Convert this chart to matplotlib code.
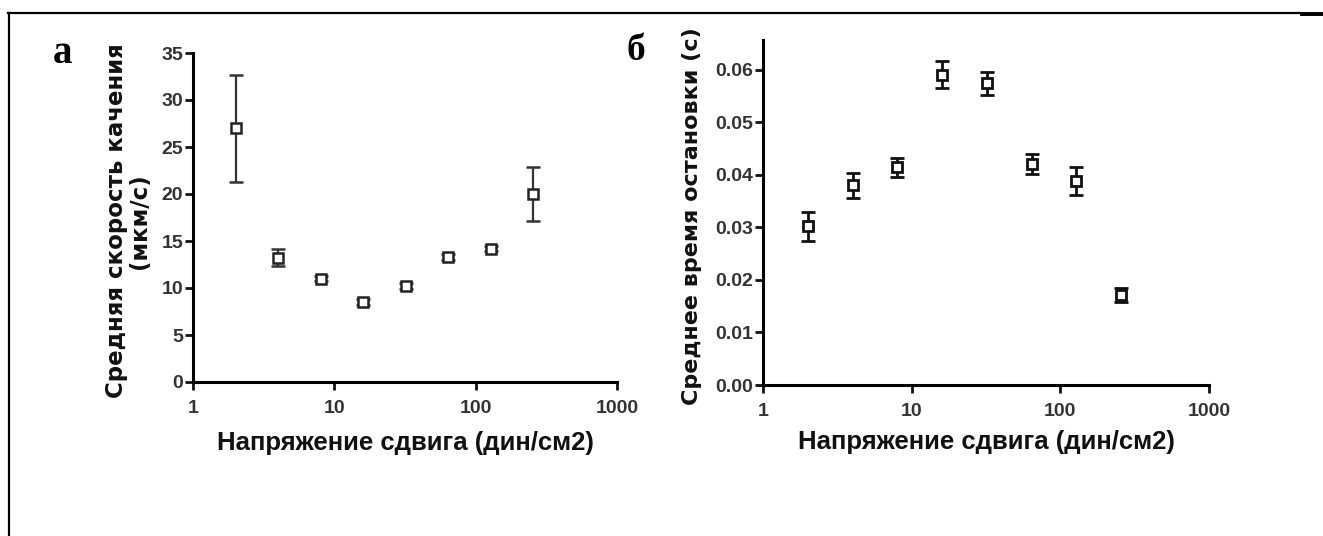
import matplotlib
matplotlib.use("Agg")
from matplotlib import pyplot as plt
from matplotlib.lines import Line2D
from matplotlib.ticker import FixedLocator, FixedFormatter, NullLocator

# shear stress (dyn/cm2)
shear = [2, 4, 8, 16, 32, 64, 128, 256]

# panel a: mean rolling velocity (um/s)
velMean = [27.0, 13.2, 11.0, 8.5, 10.2, 13.3, 14.2, 20.0]
velErr = [5.7, 0.9, 0.3, 0.3, 0.3, 0.3, 0.3, 2.9]

# panel b: mean stop time (s)
stopMean = [0.0302, 0.0380, 0.0415, 0.0591, 0.0575, 0.0420, 0.0388, 0.0171]
stopErr = [0.0028, 0.0024, 0.0018, 0.0026, 0.0022, 0.0019, 0.0027, 0.0013]

xTicks = [1, 10, 100, 1000]
xTickLabels = ["1", "10", "100", "1000"]
velTicks = [0, 5, 10, 15, 20, 25, 30, 35]
stopTicks = [0.00, 0.01, 0.02, 0.03, 0.04, 0.05, 0.06]

xLabel = "Напряжение сдвига (дин/см2)"
yLabelA = "Средняя скорость качения\n(мкм/с)"
yLabelB = "Среднее время остановки (с)"

plt.rcParams['font.family'] = ['Liberation Sans', 'DejaVu Sans']

W, H = 1323, 536
fig = plt.figure(figsize=(W/100, H/100), dpi=100)

def px(x0, y0, x1, y1):
    # axes box from pixel edges (top-left origin)
    return [x0/W, 1-y1/H, (x1-x0)/W, (y1-y0)/H]

axA = fig.add_axes(px(193, 53, 617, 382))
axB = fig.add_axes(px(763, 40, 1209, 385))

def style(ax, lpad):
    for s in ['top', 'right']:
        ax.spines[s].set_visible(False)
    for s in ['left', 'bottom']:
        ax.spines[s].set_linewidth(2.2)
    ax.set_xscale('log')
    ax.set_xlim(1, 1000)
    ax.xaxis.set_major_locator(FixedLocator(xTicks))
    ax.xaxis.set_major_formatter(FixedFormatter(xTickLabels))
    ax.xaxis.set_minor_locator(NullLocator())
    ax.tick_params(axis='both', direction='out', length=6, width=2, colors='#111',
                   labelcolor='#333', labelsize=14)
    ax.tick_params(axis='x', pad=7)
    ax.tick_params(axis='y', pad=1)
    for t in ax.get_xticklabels() + ax.get_yticklabels():
        t.set_fontweight('bold')
    ax.set_xlabel(xLabel, fontsize=18.5, fontweight='bold', color='#111', labelpad=lpad)

# panel a
style(axA, 10)
axA.errorbar(shear, velMean, yerr=velErr, fmt='s', ms=7, mfc='white', mec='#222',
             mew=1.8, ecolor='#333', elinewidth=1.6, capsize=5, capthick=1.6)
axA.set_ylim(0, 35)
axA.set_yticks(velTicks)
axA.set_yticklabels([str(v) for v in velTicks], fontweight='bold')
axA.set_ylabel(yLabelA, family='DejaVu Sans', fontsize=16.5, fontweight='bold',
               color='#111', linespacing=0.95)
axA.yaxis.set_label_coords(-0.10, 0.49)

# panel b
style(axB, 7)
axB.errorbar(shear, stopMean, yerr=stopErr, fmt='s', ms=7, mfc='white', mec='#111',
             mew=2, ecolor='#111', elinewidth=2, capsize=5, capthick=2)
axB.set_ylim(0, 0.0657)
axB.set_yticks(stopTicks)
axB.set_yticklabels(["%.2f" % v for v in stopTicks], fontweight='bold')
axB.set_ylabel(yLabelB, family='DejaVu Sans', fontsize=16, fontweight='bold', color='#111')
axB.yaxis.set_label_coords(-0.137, 0.49)

# panel letters
fig.text(53/W, 1-63/H, "а", family='Liberation Serif', fontsize=28, fontweight='bold')
fig.text(627/W, 1-60/H, "б", family='Liberation Serif', fontsize=27, fontweight='bold')

# page frame
fig.add_artist(Line2D([8/W, 1300/W], [1-13/H, 1-13/H], color='black', lw=1.6))
fig.add_artist(Line2D([1302/W, 1], [1-14/H, 1-14/H], color='black', lw=2.8))
fig.add_artist(Line2D([9/W, 9/W], [1-13/H, 0], color='black', lw=1.6))

fig.savefig("out.png", dpi=100)
